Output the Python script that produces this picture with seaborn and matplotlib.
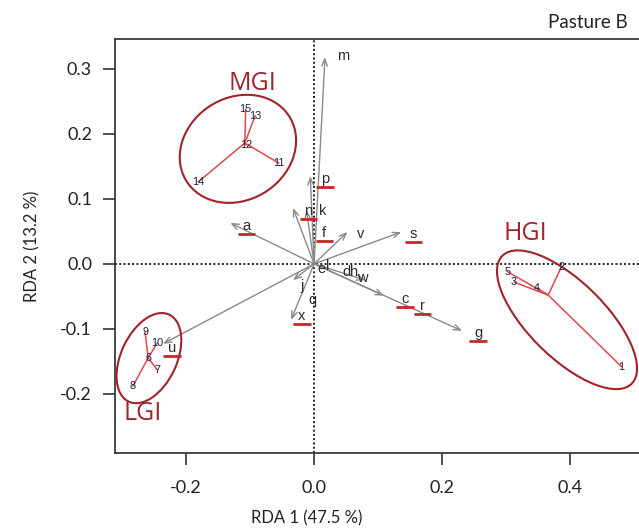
import numpy as np
import pandas as pd
import seaborn as sns
import matplotlib
matplotlib.use("Agg")
import matplotlib.pyplot as plt
from matplotlib.patches import Ellipse

# ---- site scores (RDA 1, RDA 2) ----
site_names = ["1", "2", "3", "4", "5",
              "6", "7", "8", "9", "10",
              "11", "12", "13", "14", "15"]
site_x = [0.480, 0.386, 0.312, 0.348, 0.302,
          -0.259, -0.245, -0.283, -0.264, -0.245,
          -0.055, -0.106, -0.092, -0.181, -0.107]
site_y = [-0.158, -0.005, -0.028, -0.037, -0.012,
          -0.145, -0.163, -0.188, -0.105, -0.122,
          0.155, 0.183, 0.228, 0.126, 0.238]
site_group = ["HGI"] * 5 + ["LGI"] * 5 + ["MGI"] * 5

# ---- dispersion ellipses per group ----
ell_group = ["HGI", "LGI", "MGI"]
ell_cx = [0.395, -0.258, -0.119]
ell_cy = [-0.086, -0.145, 0.177]
ell_w = [0.282, 0.148, 0.189]
ell_h = [0.118, 0.087, 0.158]
ell_angle = [-44, 64.5, 30]
grp_label_x = [0.330, -0.267, -0.097]
grp_label_y = [0.046, -0.230, 0.277]

# ---- biplot arrows (tips) ----
arrow_names = ["m", "p", "n", "k", "a", "v", "s", "c", "g", "u", "j", "x", "w"]
arrow_x = [0.017, -0.006, -0.033, -0.012, -0.131, 0.052, 0.136, 0.109, 0.231,
           -0.236, -0.033, -0.036, 0.080]
arrow_y = [0.318, 0.135, 0.086, 0.083, 0.063, 0.049, 0.049, -0.049, -0.103,
           -0.123, -0.025, -0.086, -0.025]

# ---- variable labels ----
var_names = ["m", "p", "n", "k", "a", "f", "v", "s", "e", "l", "d", "h", "w",
             "c", "r", "g", "u", "j", "q", "x"]
var_x = [0.045, 0.017, -0.009, 0.013, -0.106, 0.016, 0.073, 0.155, 0.012, 0.021,
         0.050, 0.062, 0.076, 0.142, 0.169, 0.256, -0.222, -0.019, -0.002, -0.019]
var_y = [0.320, 0.131, 0.082, 0.082, 0.058, 0.048, 0.046, 0.046, -0.008, -0.003,
         -0.012, -0.012, -0.022, -0.054, -0.065, -0.106, -0.129, -0.034, -0.055, -0.080]
var_underlined = [False, True, True, False, True, True, False, True, False, False,
                  False, False, False, True, True, True, True, False, False, True]

dark_red = "#a3232b"
spider_red = "#e0484d"

sns.set_theme(style="white")
plt.rcParams["font.family"] = ["Lato", "DejaVu Sans"]

fig = plt.figure(figsize=(6.39, 5.29), dpi=100)
ax = fig.add_axes([115 / 639, 76 / 529, 557 / 639, 414 / 529])
ax.set_xlim(-0.311, 0.559)
ax.set_ylim(-0.291, 0.346)

# reference lines through the origin
ax.axhline(0, color="#222222", lw=1.4, ls=(0, (1, 1.2)), zorder=1)
ax.axvline(0, color="#222222", lw=1.4, ls=(0, (1, 1.2)), zorder=1)

# arrows
for nx, ny in zip(arrow_x, arrow_y):
    ax.annotate("", xy=(nx, ny), xytext=(0, 0),
                arrowprops=dict(arrowstyle="->,head_length=0.5,head_width=0.2",
                                color="#8a8a8a", lw=1.0,
                                shrinkA=0, shrinkB=0, mutation_scale=10),
                zorder=2)

# spider lines from group centroids
sites = pd.DataFrame({"site": site_names, "x": site_x, "y": site_y, "group": site_group})
cent = sites.groupby("group")[["x", "y"]].mean()
seg_rows = []
for i, r in sites.iterrows():
    cx, cy = cent.loc[r["group"]]
    seg_rows.append({"seg": i, "order": 0, "x": cx, "y": cy})
    seg_rows.append({"seg": i, "order": 1, "x": r["x"], "y": r["y"]})
segs = pd.DataFrame(seg_rows)
sns.lineplot(data=segs, x="x", y="y", units="seg", estimator=None, sort=False,
             color=spider_red, lw=1.1, ax=ax, zorder=3)

for name, x, y in zip(site_names, site_x, site_y):
    ax.text(x, y, name, fontsize=7.8, color="#1a2048", ha="center", va="center",
            family=["Liberation Sans", "DejaVu Sans"], zorder=5)

# group ellipses and labels
for g, cx, cy, w, h, a, lx, ly in zip(ell_group, ell_cx, ell_cy, ell_w, ell_h,
                                      ell_angle, grp_label_x, grp_label_y):
    ax.add_patch(Ellipse((cx, cy), w, h, angle=a, fill=False, ec=dark_red,
                         lw=1.5, zorder=4))
    ax.text(lx, ly, g, fontsize=18, color=dark_red, ha="center", va="center",
            family=["Open Sans", "DejaVu Sans"], zorder=5)

# variable labels, some underlined
for name, x, y, u in zip(var_names, var_x, var_y, var_underlined):
    ax.text(x, y, name, fontsize=10.5, color="#2b2b2b", ha="center", va="center",
            family=["Liberation Sans", "DejaVu Sans"], zorder=5)
    if u:
        ax.plot([x - 0.0135, x + 0.0135], [y - 0.0125, y - 0.0125],
                color="#c0282d", lw=2.0, solid_capstyle="butt", zorder=5)

# axes styling
ax.set_xticks([-0.2, 0.0, 0.2, 0.4])
ax.set_yticks([-0.2, -0.1, 0.0, 0.1, 0.2, 0.3])
ax.set_xticklabels(["-0.2", "0.0", "0.2", "0.4"])
ax.set_yticklabels(["-0.2", "-0.1", "0.0", "0.1", "0.2", "0.3"])
ax.tick_params(axis="x", direction="out", length=8.5, width=1.1, pad=11,
               labelsize=13, colors="#222222", bottom=True)
ax.tick_params(axis="y", direction="out", length=8.5, width=1.1, pad=8,
               labelsize=13, colors="#222222", left=True)
for s in ax.spines.values():
    s.set_color("#3a3a3a")
    s.set_linewidth(1.3)

ax.set_xlabel("RDA 1 (47.5 %)", fontsize=12, color="#222222")
ax.set_ylabel("RDA 2 (13.2 %)", fontsize=12, color="#222222")
ax.xaxis.set_label_coords((307 - 115) / 557, -(510 - 453) / 414)
ax.yaxis.set_label_coords(-(115 - 40) / 557, 0.5)

fig.text(628 / 639, 1 - 22 / 529, "Pasture B", fontsize=13.5, color="#222222",
         ha="right", va="center")

fig.savefig("out.png", dpi=100)
